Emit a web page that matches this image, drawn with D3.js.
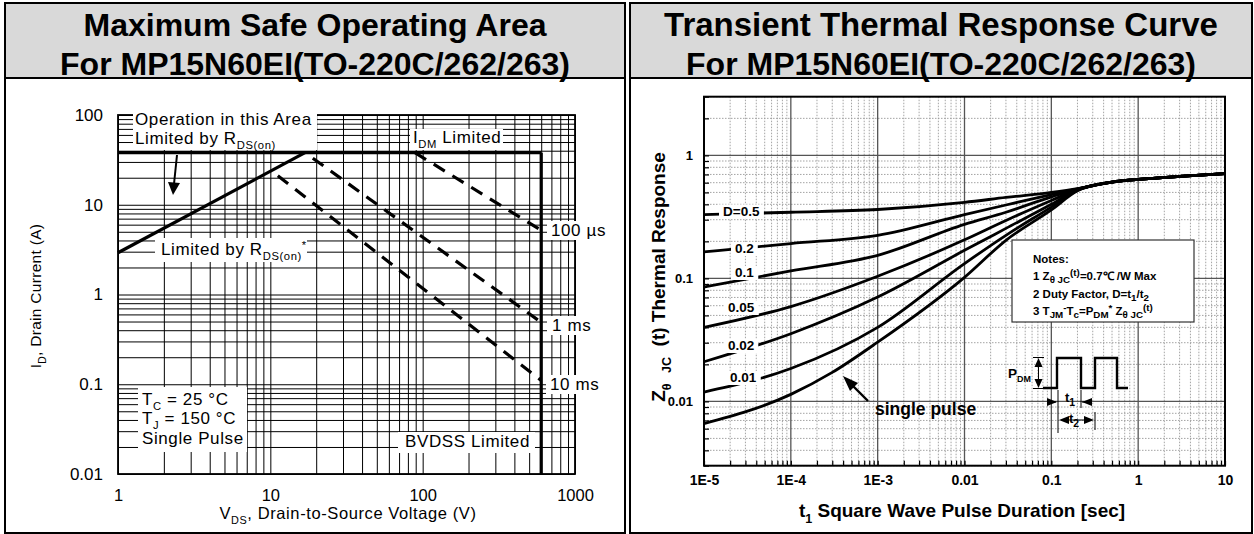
<!DOCTYPE html>
<html>
<head>
<meta charset="utf-8">
<script src="https://cdn.jsdelivr.net/npm/d3@7"></script>
<style>
	body { margin: 0; background: #fff; }
	svg { display: block; }
	text { white-space: pre; }
</style>
</head>
<body>
<div id="chart"></div>
<script>
// ---------- left: maximum safe operating area ----------
var soaVTicks = [1, 10, 100, 1000];
var soaITicks = [0.01, 0.1, 1, 10, 100];
var rdsOnLimit = [[1, 2.92], [16.9, 38]];
var idmLimit = [[1, 38], [600, 38]];
var bvdssLimit = [[600, 38], [600, 0.01]];
var pulse100us = [[89, 38], [600, 5.2]];
var pulse1ms = [[19, 33], [600, 0.49]];
var pulse10ms = [[11.2, 21], [600, 0.11]];

// ---------- right: transient thermal response ----------
var zthTTicks = [1e-5, 1e-4, 1e-3, 0.01, 0.1, 1, 10];
var zthTLabels = ["1E-5", "1E-4", "1E-3", "0.01", "0.1", "1", "10"];
var zthZTicks = [0.01, 0.1, 1];
var zthZLabels = ["0.01", "0.1", "1"];
var dutyNames = ["D=0.5", "0.2", "0.1", "0.05", "0.02", "0.01"];
var commonTail = [[0.5, 0.607], [1, 0.638], [3, 0.675], [10, 0.71]];
var zD050 = [[1e-5, 0.33], [1e-4, 0.345], [1e-3, 0.363], [1e-2, 0.415], [3e-2, 0.455], [0.1, 0.50], [0.2, 0.536]];
var zD020 = [[1e-5, 0.164], [1e-4, 0.192], [1e-3, 0.224], [1e-2, 0.33], [3e-2, 0.395], [0.1, 0.48], [0.2, 0.534]];
var zD010 = [[1e-5, 0.085], [1e-4, 0.115], [1e-3, 0.154], [1e-2, 0.275], [3e-2, 0.345], [0.1, 0.46], [0.2, 0.532]];
var zD005 = [[1e-5, 0.040], [1e-4, 0.059], [1e-3, 0.104], [1e-2, 0.206], [3e-2, 0.296], [0.1, 0.43], [0.2, 0.529]];
var zD002 = [[1e-5, 0.021], [1e-4, 0.0355], [1e-3, 0.0705], [1e-2, 0.169], [3e-2, 0.255], [0.1, 0.40], [0.2, 0.525]];
var zD001 = [[1e-5, 0.0119], [1e-4, 0.0185], [1e-3, 0.040], [1e-2, 0.132], [3e-2, 0.224], [0.1, 0.38], [0.2, 0.52]];
var zSingle = [[1e-5, 0.0066], [1e-4, 0.0114], [3e-4, 0.0172], [1e-3, 0.0303], [1e-2, 0.102], [3e-2, 0.204], [0.1, 0.36], [0.2, 0.515]];

var FONT = '"Liberation Sans", Arial, Helvetica, sans-serif';

var svg = d3.select("#chart").append("svg")
	.attr("width", 1254)
	.attr("height", 534)
	.style("font-family", FONT);

svg.append("rect").attr("width", 1254).attr("height", 534).attr("fill", "#fff");

// rich text: parts like [["I"], ["DM", "sub"], [" Limited"]]
function rich(textSel, parts, size, small) {
	small = small || 0.66;
	var cur = 0;
	parts.forEach(function (p) {
		var off = p[1] == "sub" ? size * 0.3 : (p[1] == "sup" ? -size * 0.38 : 0);
		textSel.append("tspan")
			.attr("dy", off - cur)
			.style("font-size", (p[1] ? size * small : size) + "px")
			.text(p[0]);
		cur = off;
	});
	return textSel;
}

// panels and headers
function panel(x, w, line1, line2, size1) {
	svg.append("rect")
		.attr("x", x).attr("y", 3).attr("width", w).attr("height", 75)
		.attr("fill", "#d9d9d9");
	svg.append("rect")
		.attr("x", x).attr("y", 3).attr("width", w).attr("height", 530)
		.attr("fill", "none").attr("stroke", "#000").attr("stroke-width", 2);
	[line1, line2].forEach(function (t, i) {
		svg.append("text")
			.attr("x", x + w / 2)
			.attr("y", i == 0 ? 36 : 75)
			.attr("text-anchor", "middle")
			.style("font-size", (i == 0 ? size1 : 32) + "px")
			.style("font-weight", "bold")
			.text(t);
	});
	svg.append("line")
		.attr("x1", x).attr("x2", x + w).attr("y1", 78).attr("y2", 78)
		.attr("stroke", "#000").attr("stroke-width", 2);
}
panel(5, 620, "Maximum Safe Operating Area", "For MP15N60EI(TO-220C/262/263)", 32);
panel(630, 622, "Transient Thermal Response Curve", "For MP15N60EI(TO-220C/262/263)", 33);

// ================= LEFT CHART =================
var xL = d3.scaleLog().domain([1, 1000]).range([118, 575]);
var yL = d3.scaleLog().domain([0.01, 100]).range([474, 115]);
var soa = svg.append("g").attr("class", "soa");

// grid
soa.append("g")
	.attr("transform", "translate(0,474)")
	.call(d3.axisBottom(xL).ticks(10).tickSize(-359).tickFormat(""))
	.call(function (g) { g.select(".domain").remove(); })
	.selectAll("line").attr("stroke", "#000").attr("stroke-width", 1);
soa.append("g")
	.attr("transform", "translate(118,0)")
	.call(d3.axisLeft(yL).ticks(10).tickSize(-457).tickFormat(""))
	.call(function (g) { g.select(".domain").remove(); })
	.selectAll("line").attr("stroke", "#000").attr("stroke-width", 1);

soa.append("rect")
	.attr("x", 118).attr("y", 115).attr("width", 457).attr("height", 359)
	.attr("fill", "none").attr("stroke", "#000").attr("stroke-width", 1.8);

var lineL = d3.line()
	.x(function (d) { return xL(d[0]); })
	.y(function (d) { return yL(d[1]); });

[rdsOnLimit, idmLimit, bvdssLimit].forEach(function (d) {
	soa.append("path").attr("d", lineL(d))
		.attr("fill", "none").attr("stroke", "#000").attr("stroke-width", 3.2);
});
[pulse100us, pulse1ms, pulse10ms].forEach(function (d) {
	soa.append("path").attr("d", lineL(d))
		.attr("fill", "none").attr("stroke", "#000").attr("stroke-width", 3.2)
		.attr("stroke-dasharray", "13,9");
});

// axis labels
soa.append("g")
	.attr("transform", "translate(0,474)")
	.call(d3.axisBottom(xL).tickValues(soaVTicks).tickFormat(d3.format("d")).tickSize(0).tickPadding(15))
	.call(function (g) { g.select(".domain").remove(); })
	.selectAll("text").style("font-size", "16.5px").style("font-family", FONT).attr("fill", "#000");
soa.append("g")
	.attr("transform", "translate(118,0)")
	.call(d3.axisLeft(yL).tickValues(soaITicks).tickFormat(function (d) { return String(d); }).tickSize(0).tickPadding(15))
	.call(function (g) { g.select(".domain").remove(); })
	.selectAll("text").style("font-size", "17px").style("font-family", FONT).attr("fill", "#000");

rich(soa.append("text").attr("x", 348).attr("y", 519).attr("text-anchor", "middle")
	.style("letter-spacing", "0.6px"),
	[["V"], ["DS", "sub"], [", Drain-to-Source Voltage (V)"]], 16.5);
rich(soa.append("text").attr("transform", "translate(41,296) rotate(-90)").attr("text-anchor", "middle")
	.style("letter-spacing", "0.3px"),
	[["I"], ["D", "sub"], [", Drain Current (A)"]], 15.5);

// annotation boxes
function noteBox(box, lines) {
	soa.append("rect")
		.attr("x", box[0]).attr("y", box[1]).attr("width", box[2]).attr("height", box[3])
		.attr("fill", "#fff");
	lines.forEach(function (l) {
		rich(soa.append("text").attr("x", l[0]).attr("y", l[1]).style("letter-spacing", "0.6px"), l[2], 17);
	});
}
noteBox([133, 112, 184, 38], [
	[135, 125, [["Operation in this Area"]]],
	[135, 144, [["Limited by R"], ["DS(on)", "sub"]]]
]);
noteBox([410, 129, 93, 21], [[413, 143, [["I"], ["DM", "sub"], [" Limited"]]]]);
noteBox([155, 238, 152, 24], [[161, 255, [["Limited by R"], ["DS(on)", "sub"], ["*", "sup"]]]]);
noteBox([547, 221, 60, 19], [[551, 236, [["100 µs"]]]]);
noteBox([547, 316, 45, 19], [[552, 331, [["1 ms"]]]]);
noteBox([546, 375, 54, 19], [[550, 390, [["10 ms"]]]]);
noteBox([138, 387, 109, 65], [
	[142, 405, [["T"], ["C", "sub"], [" = 25 °C"]]],
	[142, 424, [["T"], ["J", "sub"], [" = 150 °C"]]],
	[142, 444, [["Single Pulse"]]]
]);
noteBox([398, 432, 137, 21], [[405, 447, [["BVDSS Limited"]]]]);

// arrow to the RDS(on) line
soa.append("line").attr("x1", 177).attr("y1", 155).attr("x2", 174).attr("y2", 184)
	.attr("stroke", "#000").attr("stroke-width", 2);
soa.append("path").attr("d", "M168,182 L180,183 L173,195 Z").attr("fill", "#000");

// ================= RIGHT CHART =================
var xR = d3.scaleLog().domain([1e-5, 10]).range([704, 1225]);
var yR = d3.scaleLog().domain([0.003, 3]).range([465.7, 96.7]);
var zth = svg.append("g").attr("class", "zth").style("font-weight", "bold");

function isDecade(v) {
	var l = Math.log10(v);
	return Math.abs(l - Math.round(l)) < 1e-6;
}

var minorX = xR.ticks(10).filter(function (v) { return !isDecade(v); });
var minorY = yR.ticks(10).filter(function (v) { return !isDecade(v); });
var majorX = xR.ticks(10).filter(function (v) { return isDecade(v) && v > 1e-5 && v < 10; });
var majorY = zthZTicks;

zth.append("g").selectAll("line").data(minorX).enter().append("line")
	.attr("x1", function (d) { return xR(d); }).attr("x2", function (d) { return xR(d); })
	.attr("y1", 96.7).attr("y2", 465.7);
zth.append("g").selectAll("line").data(minorY).enter().append("line")
	.attr("y1", function (d) { return yR(d); }).attr("y2", function (d) { return yR(d); })
	.attr("x1", 704).attr("x2", 1225);
zth.selectAll("g line")
	.attr("stroke", "#9a9a9a").attr("stroke-width", 0.9).attr("stroke-dasharray", "1.5,1.5");

zth.append("g").selectAll("line").data(majorX).enter().append("line")
	.attr("x1", function (d) { return xR(d); }).attr("x2", function (d) { return xR(d); })
	.attr("y1", 96.7).attr("y2", 465.7)
	.attr("stroke", "#555").attr("stroke-width", 1.3);
zth.append("g").selectAll("line").data(majorY).enter().append("line")
	.attr("y1", function (d) { return yR(d); }).attr("y2", function (d) { return yR(d); })
	.attr("x1", 704).attr("x2", 1225)
	.attr("stroke", "#555").attr("stroke-width", 1.3);

// inward ticks
zth.append("g").attr("transform", "translate(0,465.7)")
	.call(d3.axisBottom(xR).ticks(10).tickSize(-5).tickFormat(""))
	.call(function (g) { g.select(".domain").remove(); })
	.selectAll("line").attr("stroke", "#000").attr("stroke-width", 1.2);
zth.append("g").attr("transform", "translate(704,0)")
	.call(d3.axisLeft(yR).ticks(10).tickSize(-5).tickFormat(""))
	.call(function (g) { g.select(".domain").remove(); })
	.selectAll("line").attr("stroke", "#000").attr("stroke-width", 1.2);

// curves
var lineR = d3.line()
	.x(function (d) { return xR(d[0]); })
	.y(function (d) { return yR(d[1]); })
	.curve(d3.curveMonotoneX);
var dutyCurves = [zD050, zD020, zD010, zD005, zD002, zD001, zSingle];
zth.append("g").selectAll("path").data(dutyCurves).enter().append("path")
	.attr("d", function (d) { return lineR(d.concat(commonTail)); })
	.attr("fill", "none").attr("stroke", "#000").attr("stroke-width", 2.8);

zth.append("rect")
	.attr("x", 704).attr("y", 96.7).attr("width", 521).attr("height", 369)
	.attr("fill", "none").attr("stroke", "#000").attr("stroke-width", 2);

// duty labels with white backing
var dutyLabelPos = [[723, 215.5], [735, 253], [735, 277], [728, 312], [728, 350], [730, 382]];
dutyNames.forEach(function (name, i) {
	var t = zth.append("text")
		.attr("x", dutyLabelPos[i][0]).attr("y", dutyLabelPos[i][1])
		.style("font-size", "13.5px").text(name);
	var bb = t.node().getBBox();
	zth.insert("rect", function () { return t.node(); })
		.attr("x", bb.x - 4).attr("y", dutyLabelPos[i][1] - 11)
		.attr("width", bb.width + 8).attr("height", 14)
		.attr("fill", "#fff");
});

zth.append("text").attr("x", 875).attr("y", 415).style("font-size", "17.5px").text("single pulse");
zth.append("line").attr("x1", 868).attr("y1", 401).attr("x2", 852).attr("y2", 385)
	.attr("stroke", "#000").attr("stroke-width", 2.4);
zth.append("path").attr("d", "M843,376 L858,383 L850,391 Z").attr("fill", "#000");

// tick labels
zth.append("g").attr("transform", "translate(0,465.7)")
	.call(d3.axisBottom(xR).tickValues(zthTTicks)
		.tickFormat(function (d, i) { return zthTLabels[i]; }).tickSize(0).tickPadding(9.5))
	.call(function (g) { g.select(".domain").remove(); })
	.selectAll("text").style("font-size", "14px").style("font-family", FONT)
	.style("font-weight", "bold").attr("fill", "#000");
zth.append("g").attr("transform", "translate(704,0)")
	.call(d3.axisLeft(yR).tickValues(zthZTicks)
		.tickFormat(function (d, i) { return zthZLabels[i]; }).tickSize(0).tickPadding(11))
	.call(function (g) { g.select(".domain").remove(); })
	.selectAll("text").style("font-size", "13px").style("font-family", FONT)
	.style("font-weight", "bold").attr("fill", "#000");

rich(zth.append("text").attr("x", 962).attr("y", 517).attr("text-anchor", "middle"),
	[["t"], ["1", "sub"], [" Square Wave Pulse Duration [sec]"]], 19);
rich(zth.append("text").attr("transform", "translate(665,277) rotate(-90)").attr("text-anchor", "middle"),
	[["Z"], ["θ", "sub"], ["   JC", "sub"], ["  (t) Thermal Response"]], 19);

// notes box
zth.append("rect").attr("x", 1012).attr("y", 240).attr("width", 182).attr("height", 82)
	.attr("fill", "#fff").attr("stroke", "#333").attr("stroke-width", 1.2);
var noteLines = [
	[263, [["Notes:"]]],
	[280, [["1 Z"], ["θ", "sub"], [" JC", "sub"], ["(t)", "sup"], ["=0.7℃ /W Max"]]],
	[298, [["2 Duty Factor, D=t"], ["1", "sub"], ["/t"], ["2", "sub"]]],
	[315, [["3 T"], ["JM", "sub"], ["-", "sup"], ["T"], ["c", "sub"], ["=P"], ["DM", "sub"], ["*", "sup"], [" Z"], ["θ", "sub"], [" JC", "sub"], ["(t)", "sup"]]]
];
noteLines.forEach(function (l) {
	rich(zth.append("text").attr("x", 1033).attr("y", l[0]), l[1], 11.5, 0.85);
});

// pulse sketch
var sk = zth.append("g").attr("stroke", "#000").attr("fill", "none");
sk.append("path").attr("d", "M1043,388 H1057 V358 H1081 V388 H1095 V358 H1117 V388 H1128")
	.attr("stroke-width", 2.4);
sk.append("path").attr("d", "M1033,357.5 H1044 M1033,388.5 H1044 M1038.5,365 V381").attr("stroke-width", 1);
sk.append("path").attr("d", "M1058,390 V433 M1081,390 V408 M1095,412 V430 M1047,402 H1056 M1082,402 H1091 M1066,420 H1086")
	.attr("stroke-width", 1);
var heads = zth.append("g").attr("fill", "#000");
heads.append("path").attr("d", "M1038.5,358 L1034.5,367 L1042.5,367 Z");
heads.append("path").attr("d", "M1038.5,388 L1034.5,379 L1042.5,379 Z");
heads.append("path").attr("d", "M1057,402 L1047,398 L1047,406 Z");
heads.append("path").attr("d", "M1082,402 L1092,398 L1092,406 Z");
heads.append("path").attr("d", "M1059,420 L1069,416 L1069,424 Z");
heads.append("path").attr("d", "M1094,420 L1084,416 L1084,424 Z");
rich(zth.append("text").attr("x", 1008).attr("y", 378), [["P"], ["DM", "sub"]], 13.5);
rich(zth.append("text").attr("x", 1065).attr("y", 402), [["t"], ["1", "sub"]], 13, 0.8);
rich(zth.append("text").attr("x", 1069).attr("y", 423), [["t"], ["2", "sub"]], 13, 0.8);
</script>
</body>
</html>
